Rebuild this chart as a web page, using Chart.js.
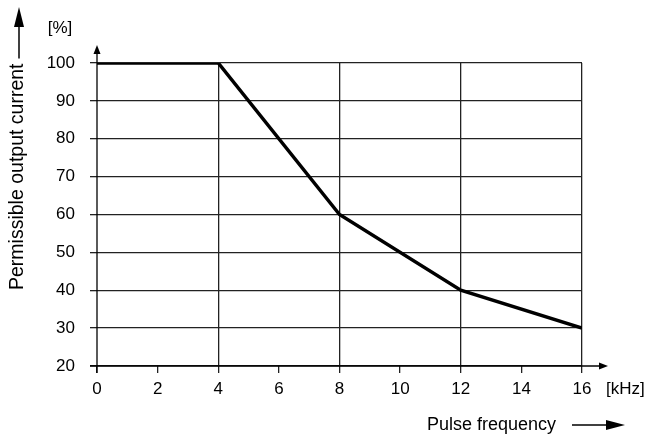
<!DOCTYPE html>
<html>
<head>
<meta charset="utf-8">
<script src="https://cdn.jsdelivr.net/npm/chart.js@4"></script>
<style>
  html, body { margin: 0; padding: 0; background: #fff; }
  #wrap { width: 649px; height: 438px; }
</style>
</head>
<body>
<div id="wrap"><canvas id="c" width="649" height="438"></canvas></div>
<script>
const frequencies = [0, 4, 8, 12, 16];
const currentPct = [100, 100, 60, 40, 30];
const xMajorGrid = [4, 8, 12, 16];
const xTitle = 'Pulse frequency';
const yTitle = 'Permissible output current';
const xUnit = '[kHz]';
const yUnit = '[%]';

const FONT = '"Liberation Sans", Arial, sans-serif';

function arrowHead(ctx, tipX, tipY, dir, len, half) {
  ctx.beginPath();
  if (dir === 'up') {
    ctx.moveTo(tipX, tipY);
    ctx.lineTo(tipX - half, tipY + len);
    ctx.lineTo(tipX + half, tipY + len);
  } else {
    ctx.moveTo(tipX, tipY);
    ctx.lineTo(tipX - len, tipY - half);
    ctx.lineTo(tipX - len, tipY + half);
  }
  ctx.closePath();
  ctx.fill();
}

const decor = {
  id: 'decor',
  afterDraw(chart) {
    const ctx = chart.ctx;
    const a = chart.chartArea;
    ctx.save();
    ctx.strokeStyle = '#000';
    ctx.fillStyle = '#000';
    ctx.lineWidth = 1.3;
    // y axis with arrow
    ctx.beginPath();
    ctx.moveTo(a.left, a.bottom + 7);
    ctx.lineTo(a.left, a.top - 14);
    ctx.stroke();
    arrowHead(ctx, a.left, a.top - 18, 'up', 9, 3.5);
    // x axis with arrow
    ctx.beginPath();
    ctx.moveTo(a.left - 7, a.bottom);
    ctx.lineTo(a.right + 20, a.bottom);
    ctx.stroke();
    arrowHead(ctx, a.right + 26, a.bottom, 'right', 9, 3.5);

    ctx.font = '17px ' + FONT;
    ctx.textBaseline = 'middle';
    // units
    ctx.textAlign = 'center';
    ctx.fillText(yUnit, 60, 28);
    ctx.textAlign = 'left';
    ctx.fillText(xUnit, 606, 389);
    // x title + arrow
    ctx.font = '18px ' + FONT;
    ctx.fillText(xTitle, 427, 425);
    ctx.lineWidth = 1.5;
    ctx.beginPath();
    ctx.moveTo(572, 425);
    ctx.lineTo(608, 425);
    ctx.stroke();
    arrowHead(ctx, 625, 425, 'right', 19, 5);
    // y title rotated + arrow
    ctx.font = '19.5px ' + FONT;
    const w = ctx.measureText(yTitle).width;
    ctx.save();
    ctx.translate(18, 290);
    ctx.rotate(-Math.PI / 2);
    ctx.textAlign = 'left';
    ctx.fillText(yTitle, 0, 0);
    ctx.restore();
    const topText = 290 - w;
    ctx.beginPath();
    ctx.moveTo(19, topText - 5);
    ctx.lineTo(19, 26);
    ctx.stroke();
    arrowHead(ctx, 19, 7, 'up', 20, 5);
    ctx.restore();
  }
};

new Chart(document.getElementById('c'), {
  type: 'line',
  data: {
    datasets: [{
      data: frequencies.map((f, i) => ({ x: f, y: currentPct[i] })),
      borderColor: '#000',
      borderWidth: 3.5,
      pointRadius: 0,
      tension: 0,
      fill: false,
      borderJoinStyle: 'miter'
    }]
  },
  options: {
    responsive: false,
    animation: false,
    layout: { padding: { left: 0, top: 63, right: 67, bottom: 0 } },
    plugins: { legend: { display: false }, tooltip: { enabled: false } },
    scales: {
      x: {
        type: 'linear',
        min: 0, max: 16,
        afterFit(s) { s.height = 72; },
        border: { display: false },
        grid: {
          color: c => xMajorGrid.includes(c.tick.value) ? '#222' : 'rgba(0,0,0,0)',
          tickColor: '#222',
          lineWidth: 1.3,
          tickLength: 7
        },
        ticks: { stepSize: 2, color: '#000', padding: 6, maxRotation: 0, font: { size: 17, family: FONT } }
      },
      y: {
        min: 20, max: 100,
        afterFit(s) { s.width = 97; },
        border: { display: false },
        grid: { color: '#222', tickColor: '#222', lineWidth: 1.3, tickLength: 7 },
        ticks: { stepSize: 10, color: '#000', padding: 15, font: { size: 17, family: FONT } }
      }
    }
  },
  plugins: [decor]
});
</script>
</body>
</html>
